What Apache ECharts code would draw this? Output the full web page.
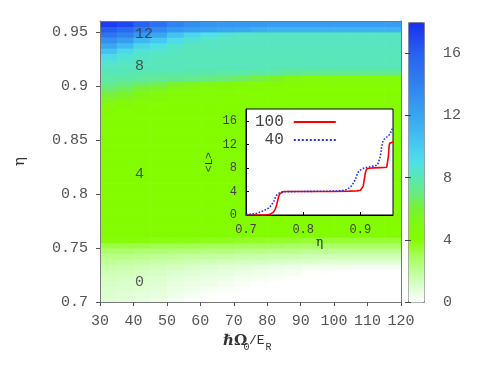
<!DOCTYPE html>
<html><head><meta charset="utf-8">
<script src="https://cdn.jsdelivr.net/npm/echarts@6/dist/echarts.min.js"></script>
<style>html,body{margin:0;padding:0;background:#fff}#c{width:491px;height:373px}</style>
</head><body><div id="c"></div>
<script>
// ---- heatmap grid (cell edges) ----
const omegaEdges = [30,35,40,45,50,55,60,65,70,75,80,85,90,95,100,105,110,115,120];
const etaEdges = [0.700,0.705,0.710,0.715,0.720,0.725,0.730,0.735,0.740,0.745,0.750,0.755,0.760,0.765,0.770,0.775,0.780,0.785,0.790,0.795,0.800,0.805,0.810,0.815,0.820,0.825,0.830,0.835,0.840,0.845,0.850,0.855,0.860,0.865,0.870,0.875,0.880,0.885,0.890,0.895,0.900,0.905,0.910,0.915,0.920,0.925,0.930,0.935,0.940,0.945,0.950,0.955,0.960];
// <L> per cell, one row per eta band (bottom -> top), one value per omega band (left -> right)
const Lgrid = [
"0.9 0.8 0.7 0.6 0.3 0.1 0 0 0 0 0 0 0 0 0 0 0 0",
"1.0 0.9 0.8 0.7 0.5 0.3 0.1 0 0 0 0 0 0 0 0 0 0 0",
"1.1 1.0 0.9 0.8 0.6 0.5 0.3 0.2 0.1 0 0 0 0 0 0 0 0 0",
"1.2 1.1 1.0 0.9 0.7 0.6 0.5 0.3 0.2 0.1 0 0 0 0 0 0 0 0",
"1.3 1.2 1.1 1.0 0.8 0.7 0.6 0.5 0.4 0.3 0.2 0.1 0 0 0 0 0 0",
"1.5 1.4 1.3 1.2 1.0 0.9 0.8 0.7 0.6 0.5 0.4 0.3 0.1 0.1 0 0 0 0",
"1.7 1.6 1.5 1.4 1.3 1.1 1.0 0.9 0.8 0.7 0.6 0.5 0.4 0.4 0.4 0.3 0.3 0.3",
"2.0 1.9 1.8 1.7 1.6 1.5 1.4 1.3 1.2 1.2 1.1 1.0 1.0 0.9 0.9 0.9 0.9 0.9",
"2.3 2.3 2.2 2.1 2.0 1.9 1.9 1.8 1.7 1.7 1.6 1.6 1.5 1.5 1.5 1.5 1.5 1.5",
"2.7 2.7 2.6 2.6 2.5 2.5 2.4 2.4 2.3 2.3 2.2 2.2 2.1 2.1 2.1 2.1 2.1 2.1",
"3.2 3.2 3.2 3.1 3.1 3.1 3.0 3.0 2.9 2.9 2.9 2.8 2.8 2.8 2.8 2.8 2.8 2.8",
"3.9 3.9 3.9 3.8 3.8 3.8 3.7 3.7 3.6 3.6 3.5 3.5 3.4 3.4 3.4 3.4 3.4 3.4",
"4 4 4 4 4 4 4 4 4 4 4 4 4 4 4 4 4 4",
"4 4 4 4 4 4 4 4 4 4 4 4 4 4 4 4 4 4",
"4 4 4 4 4 4 4 4 4 4 4 4 4 4 4 4 4 4",
"4 4 4 4 4 4 4 4 4 4 4 4 4 4 4 4 4 4",
"4 4 4 4 4 4 4 4 4 4 4 4 4 4 4 4 4 4",
"4 4 4 4 4 4 4 4 4 4 4 4 4 4 4 4 4 4",
"4 4 4 4 4 4 4 4 4 4 4 4 4 4 4 4 4 4",
"4 4 4 4 4 4 4 4 4 4 4 4 4 4 4 4 4 4",
"4 4 4 4 4 4 4 4 4 4 4 4 4 4 4 4 4 4",
"4 4 4 4 4 4 4 4 4 4 4 4 4 4 4 4 4 4",
"4 4 4 4 4 4 4 4 4 4 4 4 4 4 4 4 4 4",
"4 4 4 4 4 4 4 4 4 4 4 4 4 4 4 4 4 4",
"4 4 4 4 4 4 4 4 4 4 4 4 4 4 4 4 4 4",
"4 4 4 4 4 4 4 4 4 4 4 4 4 4 4 4 4 4",
"4 4 4 4 4 4 4 4 4 4 4 4 4 4 4 4 4 4",
"4 4 4 4 4 4 4 4 4 4 4 4 4 4 4 4 4 4",
"4 4 4 4 4 4 4 4 4 4 4 4 4 4 4 4 4 4",
"4 4 4 4 4 4 4 4 4 4 4 4 4 4 4 4 4 4",
"4 4 4 4 4 4 4 4 4 4 4 4 4 4 4 4 4 4",
"4 4 4 4 4 4 4 4 4 4 4 4 4 4 4 4 4 4",
"4 4 4 4 4 4 4 4 4 4 4 4 4 4 4 4 4 4",
"4 4 4 4 4 4 4 4 4 4 4 4 4 4 4 4 4 4",
"4 4 4 4 4 4 4 4 4 4 4 4 4 4 4 4 4 4",
"4.2 4.1 4.0 4.0 4 4 4 4 4 4 4 4 4 4 4 4 4 4",
"4.6 4.4 4.2 4.1 4.0 4 4 4 4 4 4 4 4 4 4 4 4 4",
"5.4 5.0 4.6 4.4 4.2 4.1 4.1 4.0 4.0 4.0 4 4 4 4 4 4 4 4",
"6.2 5.8 5.2 4.8 4.5 4.3 4.2 4.2 4.1 4.1 4.0 4.0 4.0 4.0 4.0 4.0 4.0 4.0",
"6.8 6.5 6.0 5.6 5.0 4.7 4.5 4.4 4.3 4.2 4.2 4.1 4.1 4.1 4.1 4.1 4.1 4.1",
"7.3 7.1 6.8 6.5 6.0 5.5 5.2 4.9 4.7 4.5 4.4 4.3 4.3 4.3 4.3 4.3 4.3 4.3",
"7.8 7.7 7.6 7.5 7.4 7.3 7.1 6.9 6.6 6.2 5.6 5.0 4.6 4.6 4.6 4.6 4.6 4.6",
"8.1 8.1 8.0 8.0 8.0 7.9 7.9 7.8 7.8 7.7 7.6 7.4 7.3 7.3 7.3 7.3 7.3 7.3",
"8.3 8.2 8.2 8.2 8.2 8.2 8.2 8.2 8.2 8.2 8.1 8.1 8.1 8.1 8.1 8.1 8.1 8.1",
"8.6 8.4 8.3 8.2 8.2 8.2 8.2 8.2 8.2 8.2 8.2 8.2 8.2 8.2 8.2 8.2 8.2 8.2",
"9.3 8.7 8.4 8.3 8.2 8.2 8.2 8.2 8.2 8.2 8.2 8.2 8.2 8.2 8.2 8.2 8.2 8.2",
"10.5 9.4 8.7 8.5 8.3 8.2 8.2 8.2 8.2 8.2 8.2 8.2 8.2 8.2 8.2 8.2 8.2 8.2",
"12.0 10.8 9.5 9.0 8.5 8.3 8.3 8.3 8.3 8.3 8.3 8.3 8.3 8.3 8.3 8.3 8.3 8.3",
"13.3 12.5 11.0 10.2 9.2 8.6 8.4 8.3 8.3 8.3 8.3 8.3 8.3 8.3 8.3 8.3 8.3 8.3",
"14.8 14.0 12.8 12.0 10.5 9.5 9.0 8.6 8.4 8.3 8.3 8.3 8.3 8.3 8.3 8.3 8.3 8.3",
"16.2 15.5 14.5 13.6 12.8 12.4 12.2 12.0 11.8 11.5 11.3 11.3 11.3 11.3 11.3 11.3 11.3 11.3",
"17.5 17.0 16.0 15.0 14.0 13.3 13.0 12.8 12.7 12.6 12.5 12.5 12.5 12.5 12.5 12.5 12.5 12.5"
];
// colour scale, one colour per integer step 0..18
const cmap = ['#ffffff','#dcffd0','#c0ff98','#a4ff58','#84fc00','#80f810','#7af230','#68ec80','#5ae8b0','#50e0e8','#48ccf0','#40b8f0','#38a6f0','#3494f0','#3082f0','#2c72f0','#2862f0','#2048f0','#1830f0'];
const cbarTicks = [0,4,8,12,16];
// contour labels
const plateauLabels = [[40.5,0.948,'12'],[40.5,0.918,'8'],[40.5,0.8185,'4'],[40.5,0.7185,'0']];

// ---- inset curves ----
const eta100 = [0.700,0.735,0.742,0.748,0.751,0.753,0.755,0.757,0.759,0.761,0.766,0.800,0.850,0.880,0.894,0.900,0.903,0.905,0.907,0.909,0.911,0.915,0.923,0.935,0.946,0.948,0.949,0.950,0.951,0.953,0.957];
const L100   = [0,0,0.1,0.5,1.0,1.5,2.3,3.1,3.6,3.85,4.0,4.0,4.0,4.05,4.1,4.2,4.3,4.9,6.2,7.3,7.8,7.95,8.0,8.05,8.1,8.3,10.0,11.5,12.2,12.35,12.4];
const eta40 = [0.700,0.710,0.719,0.725,0.730,0.737,0.742,0.746,0.749,0.751,0.754,0.757,0.760,0.765,0.800,0.850,0.865,0.871,0.877,0.8795,0.883,0.887,0.891,0.894,0.897,0.900,0.903,0.9115,0.923,0.930,0.933,0.935,0.937,0.9395,0.9436,0.947,0.949,0.9515,0.9535,0.955,0.957];
const L40   = [0.1,0.15,0.3,0.5,0.7,1.0,1.4,1.9,2.4,2.9,3.4,3.7,3.85,3.95,4.0,4.05,4.1,4.2,4.35,4.5,4.8,5.3,6.0,6.8,7.4,7.7,7.85,8.1,8.3,8.5,8.8,10.0,11.5,12.6,13.1,13.3,13.4,13.7,14.1,14.4,14.9];

const MONO = '"Liberation Mono", monospace';
const cells = [];
for (let r = 0; r < etaEdges.length - 1; r++) {
  const vals = Lgrid[r].trim().split(/\s+/).map(Number);
  for (let c = 0; c < omegaEdges.length - 1; c++) {
    cells.push([omegaEdges[c], omegaEdges[c+1], etaEdges[r], etaEdges[r+1], vals[c]]);
  }
}
const zip = (a, b) => a.map((v, i) => [v, b[i]]);

const chart = echarts.init(document.getElementById('c'));
const labelStyle = {fontFamily: MONO, fontSize: 15, color: '#555'};
chart.setOption({
  animation: false,
  backgroundColor: '#fff',
  grid: [
    {left: 100, top: 21, width: 301, height: 281, outerBoundsMode: 'none'},
    {left: 408, top: 22, width: 16, height: 280, outerBoundsMode: 'none'},
    {left: 246, top: 109, width: 147, height: 106, show: true, backgroundColor: '#fff', borderColor: '#000', borderWidth: 1, zlevel: 1, outerBoundsMode: 'none'}
  ],
  visualMap: {
    type: 'continuous', min: 0, max: 18, dimension: 4, seriesIndex: 0,
    left: 408, top: 22, itemWidth: 16, itemHeight: 280, calculable: false, hoverLink: false,
    text: null, padding: 0, borderWidth: 1, borderColor: '#888',
    inRange: {color: cmap}
  },
  xAxis: [
    {gridIndex: 0, type: 'value', min: 30, max: 120, interval: 10, z: 10,
     axisLine: {show: true, lineStyle: {color: '#777'}}, axisTick: {length: 4, lineStyle: {color: '#555'}},
     axisLabel: Object.assign({margin: 12}, labelStyle), splitLine: {show: false}},
    {gridIndex: 0, type: 'value', min: 30, max: 120, position: 'top', z: 10,
     axisLine: {show: true, lineStyle: {color: '#777'}}, axisTick: {show: false}, axisLabel: {show: false}, splitLine: {show: false}},
    {gridIndex: 1, type: 'value', min: 0, max: 1, show: false},
    {gridIndex: 2, type: 'value', min: 0.7, max: 0.957, interval: 0.1, zlevel: 1,
     axisLine: {show: true, lineStyle: {color: '#000'}}, axisTick: {inside: true, length: 3, lineStyle: {color: '#000'}},
     axisLabel: {margin: 9, fontFamily: MONO, fontSize: 12, color: '#444', showMaxLabel: false, formatter: v => v.toFixed(1)},
     splitLine: {show: false},
     name: 'η', nameLocation: 'middle', nameGap: 19, nameTextStyle: {fontFamily: '"DejaVu Serif", serif', fontSize: 12, color: '#222'}}
  ],
  yAxis: [
    {gridIndex: 0, type: 'value', min: 0.7, max: 0.96, interval: 0.05, z: 10,
     axisLine: {show: true, lineStyle: {color: '#777'}}, axisTick: {length: 4, lineStyle: {color: '#555'}},
     axisLabel: Object.assign({margin: 12, showMaxLabel: false, formatter: v => String(+v.toFixed(2))}, labelStyle),
     splitLine: {show: false},
     name: 'η', nameLocation: 'middle', nameGap: 72, nameTextStyle: {fontFamily: '"DejaVu Serif", serif', fontSize: 15, color: '#333'}},
    {gridIndex: 0, type: 'value', min: 0.7, max: 0.96, position: 'right', z: 10,
     axisLine: {show: true, lineStyle: {color: '#777'}}, axisTick: {show: false}, axisLabel: {show: false}, splitLine: {show: false}},
    {gridIndex: 1, type: 'value', min: 0, max: 18, interval: 4, position: 'right', z: 10,
     axisLine: {show: false}, axisTick: {inside: true, length: 3, customValues: cbarTicks, lineStyle: {color: '#444'}},
     axisLabel: Object.assign({margin: 19, customValues: cbarTicks}, labelStyle), splitLine: {show: false}},
    {gridIndex: 1, type: 'value', min: 0, max: 18, interval: 4, position: 'left', z: 10,
     axisLine: {show: false}, axisTick: {inside: true, length: 3, customValues: cbarTicks, lineStyle: {color: '#444'}},
     axisLabel: {show: false}, splitLine: {show: false}},
    {gridIndex: 2, type: 'value', min: 0, max: 18, interval: 4, zlevel: 1,
     axisLine: {show: true, lineStyle: {color: '#000'}}, axisTick: {inside: true, length: 3, lineStyle: {color: '#000'}},
     axisLabel: {margin: 9, fontFamily: MONO, fontSize: 12, color: '#444', showMaxLabel: false},
     splitLine: {show: false},
     name: '<L>', nameLocation: 'middle', nameGap: 31, nameTextStyle: {fontFamily: MONO, fontSize: 11, color: '#333'}}
  ],
  legend: {
    zlevel: 1, orient: 'vertical', left: 255, top: 114, padding: 0, align: 'right',
    itemWidth: 42, itemHeight: 14, itemGap: 2,
    data: ['100', '40'],
    itemStyle: {opacity: 0},
    formatter: n => n.padStart(3, ' '),
    textStyle: {fontFamily: MONO, fontSize: 16, color: '#444', padding: [0, 5, 0, 0]}
  },
  series: [
    {type: 'custom', xAxisIndex: 0, yAxisIndex: 0, data: cells, silent: true, clip: true,
     encode: {x: [0, 1], y: [2, 3]},
     renderItem: (params, api) => {
       const p0 = api.coord([api.value(0), api.value(3)]);
       const p1 = api.coord([api.value(1), api.value(2)]);
       return {type: 'rect', shape: {x: p0[0], y: p0[1], width: p1[0] - p0[0] + 0.6, height: p1[1] - p0[1] + 0.6},
               style: {fill: api.visual('color')}};
     }},
    {type: 'scatter', xAxisIndex: 0, yAxisIndex: 0, data: plateauLabels, symbolSize: 0, silent: true, z: 5,
     label: {show: true, position: [0, 0], align: 'left', verticalAlign: 'middle', formatter: p => p.data[2],
             fontFamily: MONO, fontSize: 15, color: '#333'}},
    {type: 'line', name: '100', xAxisIndex: 3, yAxisIndex: 4, zlevel: 1, data: zip(eta100, L100),
     symbol: 'none', lineStyle: {color: '#ff0000', width: 1.6}, itemStyle: {color: '#ff0000'}},
    {type: 'line', name: '40', xAxisIndex: 3, yAxisIndex: 4, zlevel: 1, data: zip(eta40, L40),
     symbol: 'none', lineStyle: {color: '#2233ff', width: 1.6, type: 'dotted'}, itemStyle: {color: '#2233ff'}}
  ],
  graphic: [
    {type: 'text', left: 340, top: 35, style: {text: '(a)', font: '22px "Liberation Mono", monospace', fill: '#222'}},
    {type: 'text', left: 223, top: 334, style: {text: 'ℏΩ', font: 'bold 15px "DejaVu Serif", serif', fill: '#333'}},
    {type: 'text', left: 243.5, top: 342, style: {text: '0', font: '10px "Liberation Mono", monospace', fill: '#333'}},
    {type: 'text', left: 249, top: 334, style: {text: '/E', font: '13px "Liberation Mono", monospace', fill: '#333'}},
    {type: 'text', left: 265.5, top: 342, style: {text: 'R', font: '10px "Liberation Mono", monospace', fill: '#333'}}
  ]
});
</script></body></html>
